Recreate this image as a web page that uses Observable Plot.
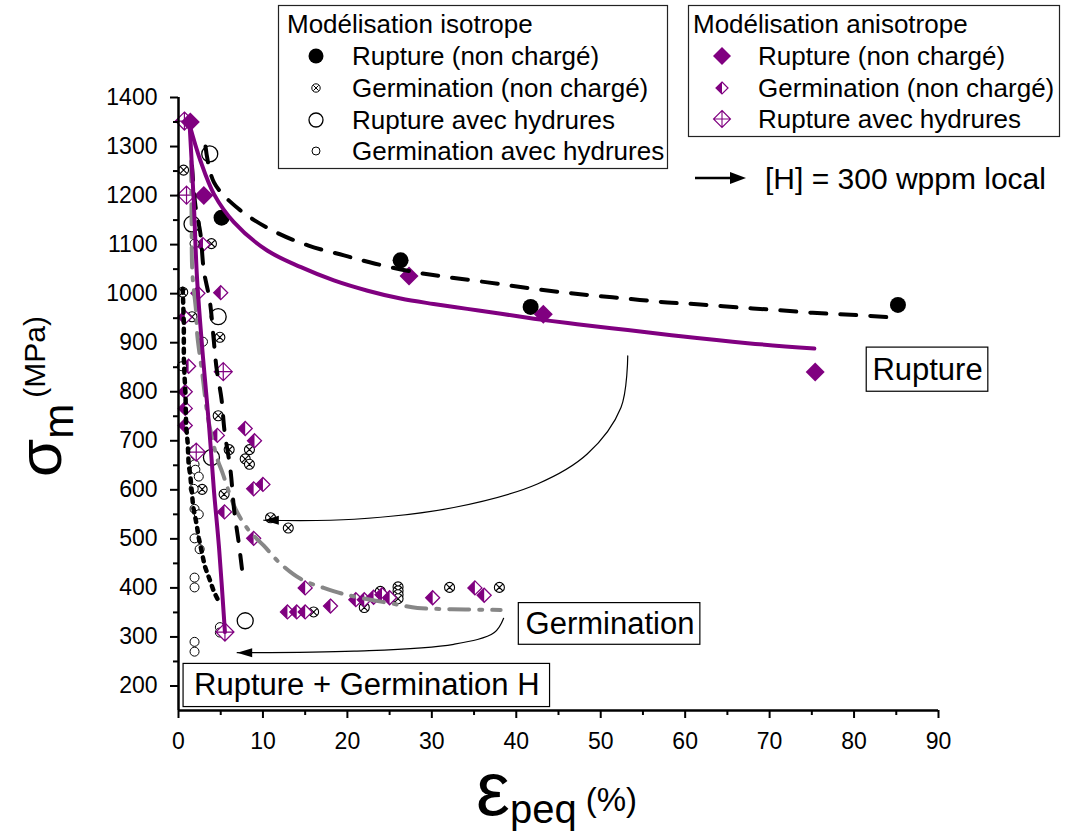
<!DOCTYPE html>
<html><head><meta charset="utf-8">
<script src="https://cdn.jsdelivr.net/npm/d3@7"></script>
<script src="https://cdn.jsdelivr.net/npm/@observablehq/plot@0.6"></script>
<style>
body{margin:0;background:#fff;}
#wrap{position:relative;width:1072px;height:834px;font-family:"Liberation Sans",Arial,sans-serif;}
#wrap svg{position:absolute;left:0;top:0;}
</style></head><body><div id="wrap"></div>
<script>
const PURPLE = "#800080", GRAY = "#878787";
const FONT = '"Liberation Sans", Arial, sans-serif';

// ---------- tick values ----------
const xMajor = [0,10,20,30,40,50,60,70,80,90];
const xMinor = [5,15,25,35,45,55,65,75,85];
const yMajor = [200,300,400,500,600,700,800,900,1000,1100,1200,1300,1400];
const yMinor = [250,350,450,550,650,750,850,950,1050,1150,1250,1350];

// ---------- legend labels ----------
const isoTitle = "Modélisation isotrope";
const isoLabels = ["Rupture (non chargé)","Germination (non chargé)","Rupture avec hydrures","Germination avec hydrures"];
const anisoTitle = "Modélisation anisotrope";
const anisoLabels = ["Rupture (non chargé)","Germination (non chargé)","Rupture avec hydrures"];
const hLabel = "[H] = 300 wppm local";

// ---------- data: [eps_peq (%), sigma_m (MPa)] ----------
const isoRupture = [[5.1,1155],[26.3,1068],[41.7,973],[85.2,977]];
const isoGerm = [[0.6,1252],[3.9,1102],[0.5,1003],[1.6,953],[4.9,911],[4.7,751],[6.0,682],[8.4,682],[7.9,663],[8.4,652],[5.4,591],[2.8,601],[10.9,543],[13.0,522],[16.0,351],[23.9,393],[22.0,360],[26.0,402],[26.0,394],[26.0,386],[26.0,378],[32.1,401],[38.0,401]];
const isoRuptureH = [[3.7,1285],[1.6,1142],[4.7,953],[3.9,666],[7.9,333]];
const isoGermH = [[1.9,1102],[2.9,902],[0.4,852],[1.9,681],[2.0,671],[1.9,652],[2.0,641],[2.4,627],[1.8,602],[1.9,561],[2.4,550],[1.9,501],[2.5,479],[1.9,421],[1.9,401],[4.9,320],[4.9,309],[1.9,290],[1.9,270]];
const anisoRupture = [[1.4,1350],[3.0,1200],[27.3,1036],[43.2,958],[75.4,840]];
const anisoGerm = [[2.9,1100],[2.3,1001],[5.0,1002],[0.75,952],[1.2,852],[0.8,800],[0.8,766],[0.8,731],[4.6,711],[7.9,725],[9.0,700],[8.9,602],[10.0,611],[5.45,555],[8.9,501],[12.9,351],[14.0,351],[15.0,351],[15.0,400],[18.0,363],[21.0,376],[22.0,376],[23.1,381],[24.1,386],[25.0,380],[30.1,380],[35.1,400],[36.2,385]];
const anisoRuptureH = [[0.7,1352],[0.95,1201],[5.3,841],[2.1,677],[5.5,310]];

// ---------- fitted curves ----------
const fitIsoRupture = [[3.2,1300],[4.2,1227],[7.1,1173],[11.1,1129],[15.4,1098],[19.6,1078],[23.3,1061],[28.3,1043],[32.2,1033],[36.6,1023],[40.7,1013],[44.9,1004],[49.2,996],[53.6,989],[57.9,982],[61.8,978],[66.2,972],[70.5,967],[75.1,961],[79.6,957],[84.0,952]];
const fitAnisoRupture = [[1.3,1345],[2.6,1271],[4.2,1203],[6.55,1146],[10.5,1088],[14.5,1054],[18.4,1027],[22.4,1006],[26.3,990],[30.2,979],[34.2,969],[38.2,959],[42.1,949],[46.1,940],[50,932],[53.2,926],[59.5,913],[67.4,899],[75.3,888]];
const fitRuptureGermH = [[1.3,1350],[1.8,1190],[2.2,1030],[2.9,870],[3.6,734],[4.2,598],[4.8,482],[5.5,310]];
const fitGerm = [[1.5,1270],[1.55,1150],[1.65,1040],[2.1,960],[2.2,920],[2.8,839],[3.55,741],[4.6,663],[5.2,635],[6.75,561],[8.3,518],[10.1,486],[12.1,449],[14.5,418],[17.2,400],[19.9,386],[25.6,367],[28.3,359],[31.3,357],[34.0,356],[38.15,355]];
const fitIsoGerm = [[1.6,1260],[2.0,1180],[2.6,1122],[3.0,1047],[3.7,986],[4.15,910],[4.5,849],[5.1,784],[5.45,720],[6.15,641],[6.6,557],[7.15,490],[7.7,412]];
const fitIsoGermH = [[0.5,1010],[0.63,941],[0.63,870],[0.71,833],[0.83,795],[0.9,731],[1.1,693],[1.2,652],[1.4,629],[1.74,565],[2.13,531],[2.4,502],[3.1,445],[3.67,418],[4.2,392],[4.86,369]];

// ---------- annotation arrows & boxes ----------
const arrowGerm = [[53.2,873],[52.4,768],[48.4,673],[42.5,612],[32.6,564],[20.8,540],[10.1,538]];
const arrowH = [[38.5,338],[37.4,309],[32.6,285],[20.8,271],[6.95,268]];
const annotLabels = ["Rupture","Germination","Rupture + Germination H"];
const annotX = [88.7,51.1,22.3], annotY = [845,327,201];
const annotX1 = [81.5,40.3,0.6], annotX2 = [95.9,61.8,44.0], annotY1 = [890,369,245], annotY2 = [800,284,157];
const annots = annotLabels.map((label,i)=>({label,x:annotX[i],y:annotY[i],x1:annotX1[i],x2:annotX2[i],y1:annotY1[i],y2:annotY2[i]}));

// ---------- custom symbols ----------
const rad = s => Math.sqrt(s/Math.PI);
const symCircleX = {draw(c,s){const r=rad(s);c.moveTo(r,0);c.arc(0,0,r,0,2*Math.PI);const d=r*0.62;c.moveTo(-d,-d);c.lineTo(d,d);c.moveTo(-d,d);c.lineTo(d,-d);}};
const symDiamond = {draw(c,s){const r=rad(s);c.moveTo(0,-r);c.lineTo(r,0);c.lineTo(0,r);c.lineTo(-r,0);c.closePath();}};
const symHalfLeft = {draw(c,s){const r=rad(s);c.moveTo(0,-r);c.lineTo(0,r);c.lineTo(-r,0);c.closePath();}};
const symDiamondCross = {draw(c,s){const r=rad(s);c.moveTo(0,-r);c.lineTo(r,0);c.lineTo(0,r);c.lineTo(-r,0);c.closePath();c.moveTo(0,-r);c.lineTo(0,r);c.moveTo(-r,0);c.lineTo(r,0);}};
const symArrowLeft = {draw(c,s){c.moveTo(0,0);c.lineTo(15,-4.5);c.lineTo(15,4.5);c.closePath();}};

const X = d=>d[0], Y = d=>d[1];
const fmt = d => String(d);

const chart = Plot.plot({
  width:1072, height:834,
  marginLeft:178, marginRight:134, marginTop:97, marginBottom:124,
  x:{domain:[0,90], label:null},
  y:{domain:[150,1400], label:null},
  style:{fontFamily:FONT, fontSize:"23px", color:"black", background:"white", overflow:"visible"},
  marks:[
    // points
    Plot.dot(isoGerm, {x:X,y:Y,symbol:symCircleX,r:5,fill:"white",stroke:"black",strokeWidth:1.1}),
    Plot.dot(anisoGerm, {x:X,y:Y,symbol:symDiamond,r:7,fill:"white",stroke:PURPLE,strokeWidth:1.3}),
    Plot.dot(anisoGerm, {x:X,y:Y,symbol:symHalfLeft,r:7,fill:PURPLE}),
    Plot.dot(isoGermH, {x:X,y:Y,symbol:"circle",r:4.5,fill:"white",stroke:"black",strokeWidth:1}),
    Plot.dot(isoRuptureH, {x:X,y:Y,symbol:"circle",r:8,fill:"white",stroke:"black",strokeWidth:1.3}),
    Plot.dot(anisoRuptureH, {x:X,y:Y,symbol:symDiamondCross,r:9,fill:"white",stroke:PURPLE,strokeWidth:1.2}),
    Plot.dot(isoRupture, {x:X,y:Y,symbol:"circle",r:8,fill:"black"}),
    Plot.dot(anisoRupture, {x:X,y:Y,symbol:symDiamond,r:9.5,fill:PURPLE}),
    // fitted curves
    Plot.line(fitIsoGermH, {x:X,y:Y,stroke:"black",strokeWidth:4.5,strokeDasharray:"4,6"}),
    Plot.line(fitGerm, {x:X,y:Y,curve:"catmull-rom",stroke:GRAY,strokeWidth:4,strokeDasharray:"20,10,3,10"}),
    Plot.line(fitIsoGerm, {x:X,y:Y,curve:"catmull-rom",stroke:"black",strokeWidth:4,strokeDasharray:"14,14"}),
    Plot.line(fitRuptureGermH, {x:X,y:Y,curve:"catmull-rom",stroke:PURPLE,strokeWidth:4}),
    Plot.line(fitIsoRupture, {x:X,y:Y,curve:"catmull-rom",stroke:"black",strokeWidth:4,strokeDasharray:"16,14"}),
    Plot.line(fitAnisoRupture, {x:X,y:Y,curve:"catmull-rom",stroke:PURPLE,strokeWidth:4}),
    // arrows
    Plot.line(arrowGerm, {x:X,y:Y,curve:"catmull-rom",stroke:"black",strokeWidth:1.2}),
    Plot.line(arrowH, {x:X,y:Y,curve:"catmull-rom",stroke:"black",strokeWidth:1.2}),
    Plot.dot([arrowGerm[arrowGerm.length-1], arrowH[arrowH.length-1]], {x:X,y:Y,symbol:symArrowLeft,r:5,fill:"black"}),
    // annotation boxes
    Plot.rect(annots, {x1:"x1",x2:"x2",y1:"y1",y2:"y2",fill:"white",stroke:"black",strokeWidth:1.2}),
    Plot.text(annots, {x:"x",y:"y",text:"label",fontSize:31,fill:"black"}),
    // axes
    Plot.axisX(xMinor, {tickSize:5, strokeWidth:2, tickFormat:()=>"", label:null}),
    Plot.axisX(xMajor, {tickSize:8, strokeWidth:2, tickPadding:14, fontSize:23, tickFormat:fmt, label:null}),
    Plot.axisY(yMinor, {tickSize:5, strokeWidth:2, tickFormat:()=>"", label:null}),
    Plot.axisY(yMajor, {tickSize:8, strokeWidth:2, tickPadding:13, fontSize:23, tickFormat:fmt, label:null}),
    Plot.ruleY([150], {strokeWidth:2.5}),
    Plot.ruleX([0], {strokeWidth:2.5})
  ]
});
document.getElementById("wrap").appendChild(chart);

// ---------- overlay: legends and axis titles ----------
const ov = d3.create("svg").attr("width",1072).attr("height",834).style("font-family",FONT).style("pointer-events","none");
function box(x,y,w,h){ov.append("rect").attr("x",x).attr("y",y).attr("width",w).attr("height",h).attr("fill","white").attr("stroke","#222").attr("stroke-width",1.2);}
function sym(type,r,cx,cy,attrs){const p=ov.append("path").attr("d",d3.symbol(type,Math.PI*r*r)()).attr("transform",`translate(${cx},${cy})`);for(const k in attrs)p.attr(k,attrs[k]);return p;}
function txt(s,x,y,size){ov.append("text").attr("x",x).attr("y",y).attr("dominant-baseline","central").attr("font-size",size).attr("fill","black").text(s);}

// isotropic legend
box(278.5,5.5,389,163);
txt(isoTitle,287,24,26);
const isoY=[56,88,120,151];
sym(d3.symbolCircle,7.5,316,isoY[0],{fill:"black"});
sym(symCircleX,4.2,316,isoY[1],{fill:"white",stroke:"black","stroke-width":1});
sym(d3.symbolCircle,7,316,isoY[2],{fill:"white",stroke:"black","stroke-width":1.3});
sym(d3.symbolCircle,4,316,isoY[3],{fill:"white",stroke:"black","stroke-width":1});
isoLabels.forEach((l,i)=>txt(l,352,isoY[i],26));

// anisotropic legend
box(688.5,5.5,371,131);
txt(anisoTitle,693,24,26);
const anY=[56,88,119];
sym(symDiamond,9,722,anY[0],{fill:PURPLE});
sym(symDiamond,6,722,anY[1],{fill:"white",stroke:PURPLE,"stroke-width":1.2});
sym(symHalfLeft,6,722,anY[1],{fill:PURPLE});
sym(symDiamondCross,8.5,722,anY[2],{fill:"white",stroke:PURPLE,"stroke-width":1.1});
anisoLabels.forEach((l,i)=>txt(l,758,anY[i],26));

// [H] arrow
ov.append("line").attr("x1",695).attr("y1",178).attr("x2",732).attr("y2",178).attr("stroke","black").attr("stroke-width",2.5);
ov.append("path").attr("d","M746,178L730,172L730,184Z").attr("fill","black");
txt(hLabel,765,178,30);

// y title
const yt = ov.append("text").attr("transform","translate(61,477) rotate(-90)").attr("fill","black");
yt.append("tspan").attr("font-size",62).text("σ");
yt.append("tspan").attr("font-size",42).attr("dy",12).text("m");
yt.append("tspan").attr("font-size",30).attr("dy",-28).attr("dx",6).text("(MPa)");

// x title
const xt = ov.append("text").attr("x",476).attr("y",815).attr("fill","black");
xt.append("tspan").attr("font-size",76).text("ε");
xt.append("tspan").attr("font-size",40).attr("dy",8).text("peq");
xt.append("tspan").attr("font-size",33).attr("dy",-12).attr("dx",9).text("(%)");

document.getElementById("wrap").appendChild(ov.node());
</script>
</body></html>
